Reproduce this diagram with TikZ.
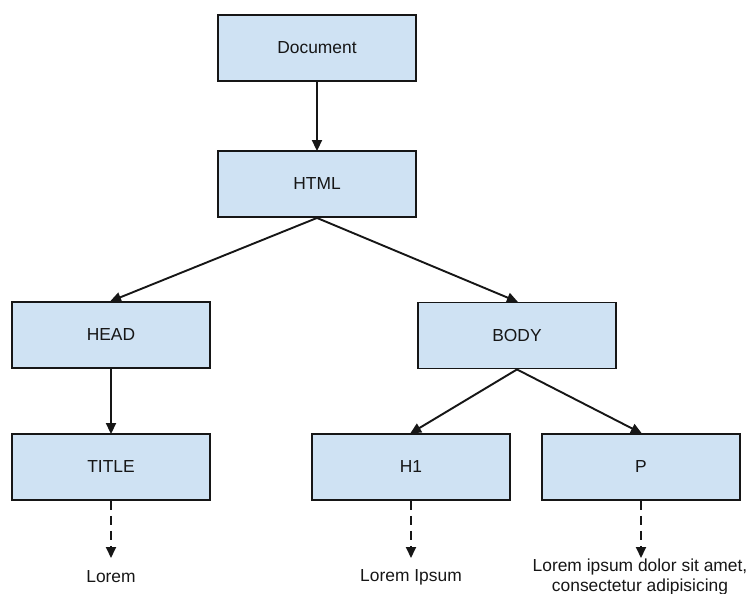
\documentclass[tikz,border=0pt]{standalone}
\usepackage{fontspec}
\setmainfont{Liberation Sans}
\usetikzlibrary{arrows.meta}
\definecolor{boxfill}{HTML}{CFE2F3}
\definecolor{ink}{HTML}{161616}
\begin{document}
\begin{tikzpicture}[x=1pt,y=-1pt,
  elem/.style={draw=ink, fill=boxfill, line width=1.9pt, rectangle,
    minimum width=198pt, minimum height=66pt, inner sep=0pt,
    text=ink, font=\fontsize{17.4}{20}\selectfont},
  label/.style={text=ink, align=center, inner sep=0pt,
    font=\fontsize{17.4}{19.5}\selectfont},
  link/.style={draw=ink, line width=1.9pt,
    -{Triangle[length=11pt,width=10pt]}, shorten >=-1pt},
  hint/.style={link, dash pattern=on 9pt off 6pt}]
  \useasboundingbox (0,0) rectangle (748,594);
  \clip (0,0) rectangle (748,594);

  % element tree
  \node[elem] (doc)   at (317,48)    {Document};
  \node[elem] (html)  at (317,184)   {HTML};
  \node[elem] (head)  at (111,335)   {HEAD};
  \node[elem] (body)  at (517,335.5) {BODY};
  \node[elem] (title) at (111,467)   {TITLE};
  \node[elem] (h1)    at (411,467)   {H1};
  \node[elem] (p)     at (641,467)   {P};

  % text content under the leaves
  \coordinate (tEnd) at (111,557);
  \coordinate (hEnd) at (411,557);
  \coordinate (pEnd) at (641,557);
  \node[label] (tText) at (111,577)   {Lorem};
  \node[label] (hText) at (411,577)   {Lorem Ipsum};
  \node[label, anchor=north] (pText) at (640,559)
    {Lorem ipsum dolor sit amet,\\consectetur adipisicing};

  % parent-child links
  \draw[link] (doc.south)  -- (html.north);
  \draw[link] (html.south) -- (head.north);
  \draw[link] (html.south) -- (body.north);
  \draw[link] (head.south) -- (title.north);
  \draw[link] (body.south) -- (h1.north);
  \draw[link] (body.south) -- (p.north);

  % content links
  \draw[hint] (title.south) -- (tEnd);
  \draw[hint] (h1.south)    -- (hEnd);
  \draw[hint] (p.south)     -- (pEnd);
\end{tikzpicture}
\end{document}
